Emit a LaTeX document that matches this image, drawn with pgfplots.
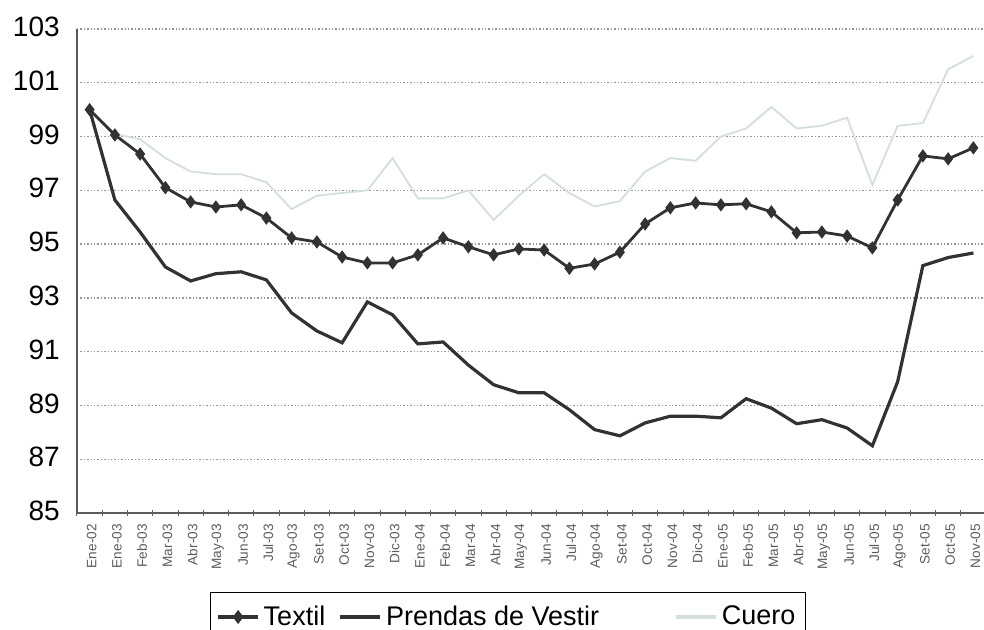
\documentclass[border=0pt]{standalone}
\usepackage{pgfplots}
\usepackage{pgfplotstable}
\pgfplotsset{compat=1.18}
\usepackage{fontspec}
\setmainfont{Liberation Sans}
\definecolor{darkline}{RGB}{50,50,50}
\definecolor{cuero}{RGB}{212,222,222}
\definecolor{gridc}{RGB}{150,150,150}
\pgfplotstableread{
x textil prendas cuero
0  100.0  100.0  100.0
1  99.06  96.64  99.1
2  98.35  95.45  98.9
3  97.10  94.15  98.2
4  96.57  93.63  97.7
5  96.38  93.90  97.6
6  96.46  93.97  97.6
7  95.97  93.67  97.3
8  95.23  92.44  96.3
9  95.08  91.77  96.8
10 94.52  91.33  96.9
11 94.30  92.85  97.0
12 94.30  92.37  98.2
13 94.60  91.29  96.7
14 95.23  91.36  96.7
15 94.90  90.50  97.0
16 94.60  89.77  95.9
17 94.82  89.47  96.8
18 94.78  89.47  97.6
19 94.10  88.84  96.9
20 94.26  88.10  96.4
21 94.70  87.87  96.6
22 95.75  88.35  97.7
23 96.35  88.60  98.2
24 96.53  88.60  98.1
25 96.46  88.54  99.0
26 96.50  89.25  99.3
27 96.20  88.90  100.1
28 95.42  88.32  99.3
29 95.45  88.47  99.4
30 95.30  88.16  99.7
31 94.86  87.50  97.2
32 96.64  89.88  99.4
33 98.28  94.20  99.5
34 98.17  94.50  101.5
35 98.58  94.67  102.0
}\datatable
\begin{document}
\begin{tikzpicture}[x=1pt,y=1pt]
\path[use as bounding box] (0,0) rectangle (492,315);
\begin{axis}[
  at={(38.5pt,58.5pt)}, anchor=south west,
  scale only axis, width=454.5pt, height=242pt,
  xmin=-0.5, xmax=35.5, ymin=85, ymax=103,
  axis lines=left, axis line style={-, draw=darkline!80, line width=0.6pt},
  ytick={85,87,...,103},
  ymajorgrids, grid style={gridc, line width=0.7pt, densely dotted},
  ytick style={draw=none},
  yticklabel style={font=\fontsize{14}{14}\selectfont, xshift=-3pt, yshift=1pt},
  /pgf/number format/assume math mode=true,
  xtick={0,...,35},
  xticklabels={Ene-02,Ene-03,Feb-03,Mar-03,Abr-03,May-03,Jun-03,Jul-03,Ago-03,Set-03,Oct-03,Nov-03,Dic-03,Ene-04,Feb-04,Mar-04,Abr-04,May-04,Jun-04,Jul-04,Ago-04,Set-04,Oct-04,Nov-04,Dic-04,Ene-05,Feb-05,Mar-05,Abr-05,May-05,Jun-05,Jul-05,Ago-05,Set-05,Oct-05,Nov-05},
  xticklabel style={rotate=90, anchor=east, font=\fontsize{6.8}{6.8}\selectfont, color=darkline!80, yshift=-1pt},
  major x tick style={draw=none},
  minor xtick={-0.5,0.5,...,35.5},
  minor x tick style={draw=darkline!80, line width=0.5pt},
  minor tick length=3pt,
]
\addplot[cuero, line width=0.9pt] table[x=x, y=cuero] {\datatable};
\addplot[darkline, line width=1.6pt] table[x=x, y=prendas] {\datatable};
\addplot[darkline, line width=1.4pt, mark=diamond*, mark size=2.2pt, mark options={solid, fill=darkline}] table[x=x, y=textil] {\datatable};
\end{axis}
\begin{axis}[
  at={(38.5pt,58.5pt)}, anchor=south west,
  scale only axis, width=454.5pt, height=242pt,
  xmin=-0.5, xmax=35.5, ymin=85, ymax=103,
  hide axis,
  legend columns=3,
  legend style={at={(0.146,-0.163)}, anchor=north west, draw=black, line width=0.8pt,
    font=\fontsize{13.5}{13.5}\selectfont, inner xsep=3pt, inner ysep=4.5pt,
    /tikz/every even column/.append style={column sep=4pt}},
  legend image code/.code={\draw[#1, mark repeat=2, mark phase=2] plot coordinates {(0pt,0pt) (10pt,0pt) (20pt,0pt)};},
]
\addlegendimage{darkline, line width=1.6pt, mark=diamond*, mark size=2.2pt, mark options={solid, fill=darkline}}
\addlegendentry{Textil}
\addlegendimage{darkline, line width=2.4pt}
\addlegendentry{Prendas de Vestir\rule{31pt}{0pt}}
\addlegendimage{cuero, line width=2.4pt}
\addlegendentry{Cuero}
\end{axis}
\end{tikzpicture}
\end{document}
